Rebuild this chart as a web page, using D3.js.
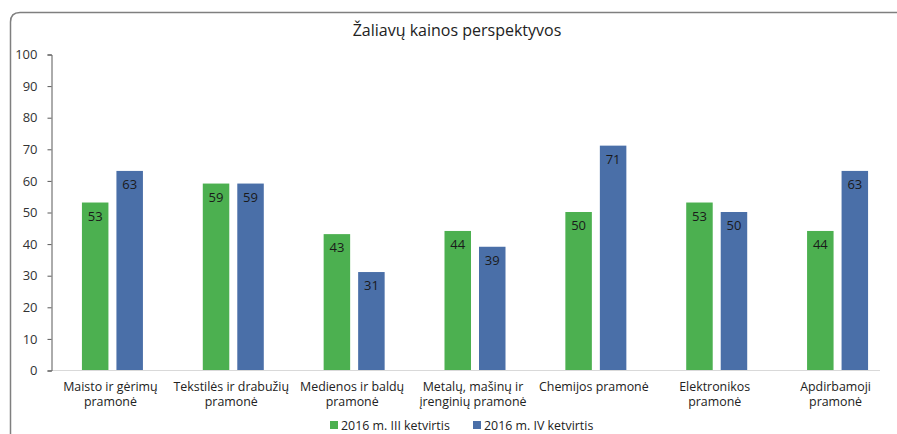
<!DOCTYPE html>
<html>
<head>
<meta charset="utf-8">
<script src="https://cdn.jsdelivr.net/npm/d3@7"></script>
<style>
  body { margin: 0; background: #fff; }
  svg { display: block; font-family: "Open Sans", sans-serif; }
</style>
</head>
<body>
<svg width="897" height="434"></svg>
<script>
var categories = [
    ["Maisto ir gėrimų", "pramonė"],
    ["Tekstilės ir drabužių", "pramonė"],
    ["Medienos ir baldų", "pramonė"],
    ["Metalų, mašinų ir", "įrenginių pramonė"],
    ["Chemijos pramonė"],
    ["Elektronikos", "pramonė"],
    ["Apdirbamoji", "pramonė"]
];
var seriesNames = ["2016 m. III ketvirtis", "2016 m. IV ketvirtis"];
var q3 = [53, 59, 43, 44, 50, 53, 44];
var q4 = [63, 59, 31, 39, 71, 50, 63];
var yTicks = [0, 10, 20, 30, 40, 50, 60, 70, 80, 90, 100];
var colors = ["#4cb050", "#4a6fa8"];

var svg = d3.select("svg");

// chart frame, cut off on the right and bottom
svg.append("path")
    .attr("d", "M10.5,434 L10.5,22 Q10.5,12.5 20,12.5 L897,12.5")
    .attr("fill", "none")
    .attr("stroke", "#7f7f7f")
    .attr("stroke-width", 1.5);

svg.append("text")
    .attr("x", 457)
    .attr("y", 36)
    .attr("text-anchor", "middle")
    .attr("font-size", 16)
    .attr("fill", "#222")
    .text("Žaliavų kainos perspektyvos");

var x = d3.scaleBand()
    .domain(d3.range(categories.length))
    .range([52, 898])
    .paddingInner(0)
    .paddingOuter(0);

var y = d3.scaleLinear().domain([0, 100]).range([370, 54]);

var barW = 26.5, gap = 8;

// baseline
svg.append("line")
    .attr("x1", 52).attr("x2", 880)
    .attr("y1", y(0) + 0.5).attr("y2", y(0) + 0.5)
    .attr("stroke", "#d9d9d9");

var yAxis = svg.append("g")
    .attr("transform", "translate(51.5,0.5)")
    .call(d3.axisLeft(y).tickValues(yTicks).tickSize(4).tickPadding(10));
yAxis.selectAll("path, line").attr("stroke", "#595959");
yAxis.selectAll("text").attr("font-size", 13).attr("fill", "#333")
    .attr("font-family", "Open Sans, sans-serif");

var series = [q3, q4];
series.forEach(function(vals, s) {
    var g = svg.append("g");
    g.selectAll("rect")
        .data(vals)
        .enter()
        .append("rect")
        .attr("x", function(d, i) {
            var c = x(i) + x.bandwidth() / 2;
            return s === 0 ? c - gap / 2 - barW : c + gap / 2;
        })
        .attr("y", function(d) { return y(d); })
        .attr("width", barW)
        .attr("height", function(d) { return y(0) - y(d); })
        .attr("fill", colors[s]);
    g.selectAll("text")
        .data(vals)
        .enter()
        .append("text")
        .attr("x", function(d, i) {
            var c = x(i) + x.bandwidth() / 2;
            return s === 0 ? c - gap / 2 - barW / 2 : c + gap / 2 + barW / 2;
        })
        .attr("y", function(d) { return y(d) + 18; })
        .attr("text-anchor", "middle")
        .attr("font-size", 13)
        .attr("fill", "#1a1a1a")
        .text(function(d) { return d; });
});

// category labels
var labels = svg.append("g");
labels.selectAll("text")
    .data(categories)
    .enter()
    .append("text")
    .attr("x", function(d, i) { return x(i) + x.bandwidth() / 2 - 2; })
    .attr("y", 391)
    .attr("text-anchor", "middle")
    .attr("font-size", 12.4)
    .attr("fill", "#222")
    .each(function(d) {
        var t = d3.select(this);
        d.forEach(function(line, k) {
            t.append("tspan")
                .attr("x", t.attr("x"))
                .attr("dy", k === 0 ? 0 : 15)
                .text(line);
        });
    });

// legend
var legendX = [330, 473];
var legend = svg.append("g");
seriesNames.forEach(function(name, s) {
    legend.append("rect")
        .attr("x", legendX[s]).attr("y", 421)
        .attr("width", 8).attr("height", 8)
        .attr("fill", colors[s]);
    legend.append("text")
        .attr("x", legendX[s] + 11).attr("y", 430)
        .attr("font-size", 12.4)
        .attr("fill", "#222")
        .text(name);
});
</script>
</body>
</html>
